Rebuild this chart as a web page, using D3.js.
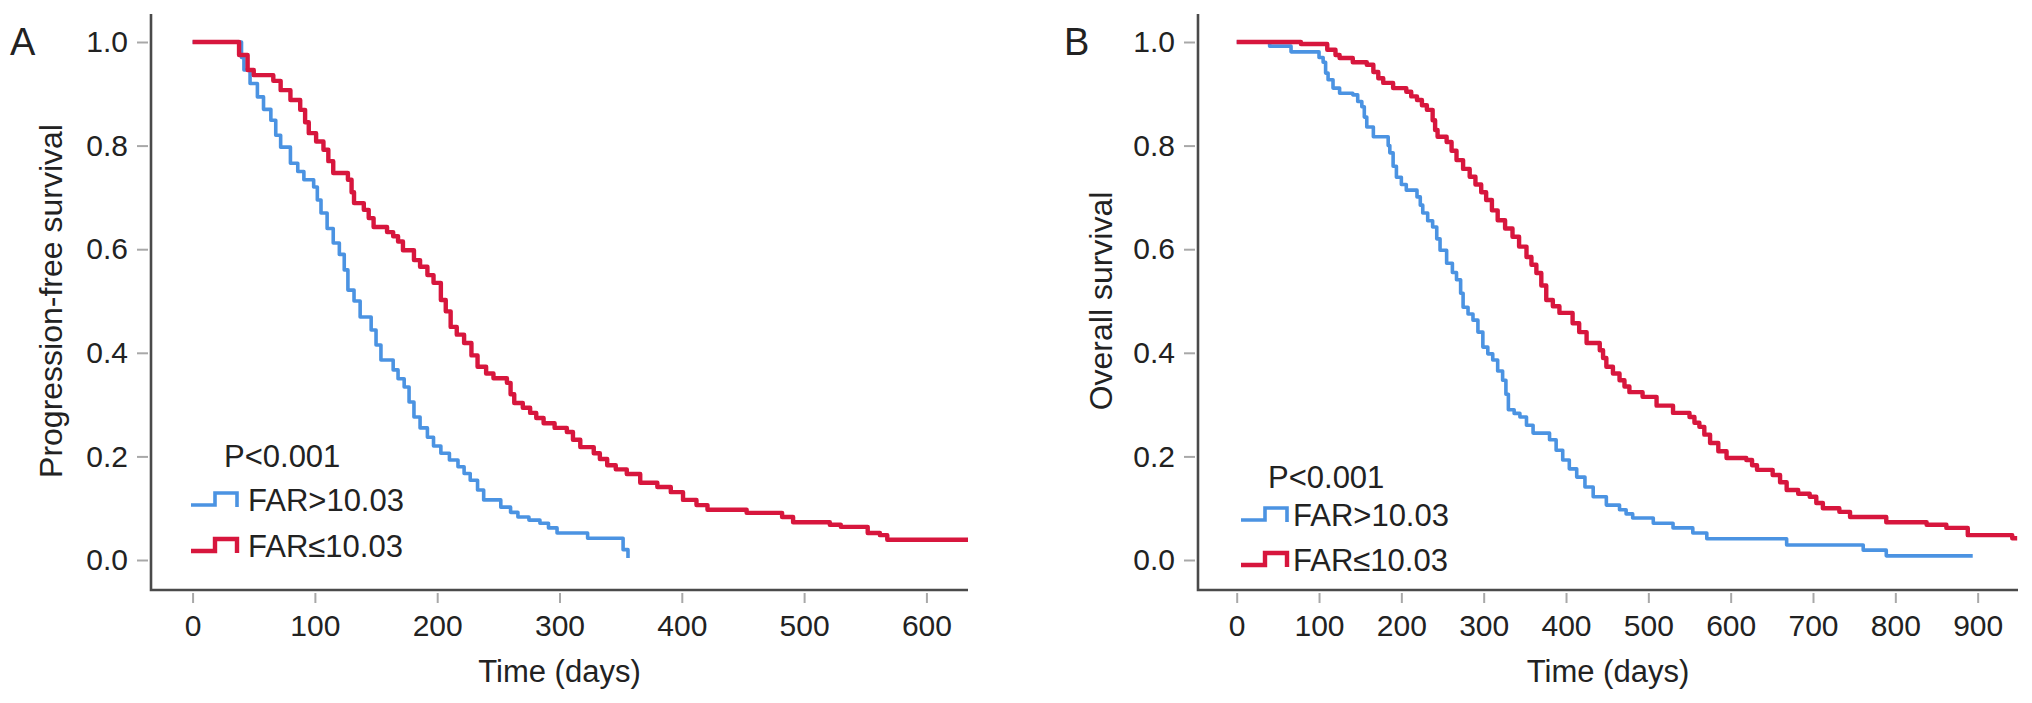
<!DOCTYPE html>
<html>
<head>
<meta charset="utf-8">
<script src="https://cdn.jsdelivr.net/npm/d3@7"></script>
<style>
  html, body { margin: 0; padding: 0; background: #fff; }
  svg text { font-family: "Liberation Sans", Arial, Helvetica, sans-serif; fill: #222; }
</style>
</head>
<body>
<div id="chart"></div>
<script>
// Kaplan-Meier curves (days, survival probability)
const groupLabels = ["FAR>10.03", "FAR\u226410.03"];
const pValueText = "P<0.001";
const yTicks = [0, 0.2, 0.4, 0.6, 0.8, 1.0];
const xTicksA = [0, 100, 200, 300, 400, 500, 600];
const xTicksB = [0, 100, 200, 300, 400, 500, 600, 700, 800, 900];

// Panel A - progression-free survival
const pfsHighDays = [0, 40, 42, 47, 53, 58, 64, 68, 72, 80, 86, 91, 99, 102, 105, 110, 115, 120, 124, 127, 132, 137, 146, 150, 154, 164, 168, 173, 177, 181, 186, 192, 197, 203, 210, 217, 222, 227, 233, 238, 252, 260, 266, 275, 284, 291, 298, 323, 352, 356];
const pfsHighSurv = [1.0, 0.97, 0.946, 0.92, 0.894, 0.87, 0.849, 0.82, 0.797, 0.766, 0.75, 0.734, 0.72, 0.695, 0.67, 0.64, 0.612, 0.59, 0.56, 0.521, 0.5, 0.469, 0.444, 0.415, 0.386, 0.367, 0.35, 0.334, 0.305, 0.276, 0.255, 0.237, 0.22, 0.206, 0.193, 0.18, 0.167, 0.154, 0.135, 0.116, 0.102, 0.092, 0.083, 0.077, 0.071, 0.062, 0.052, 0.042, 0.02, 0.004];
const pfsLowDays = [0, 38, 45, 50, 66, 72, 80, 88, 92, 95, 101, 107, 111, 115, 127, 130, 132, 140, 144, 148, 159, 164, 168, 172, 181, 186, 192, 197, 203, 207, 211, 216, 222, 228, 233, 240, 246, 257, 260, 263, 270, 276, 281, 287, 296, 306, 311, 317, 328, 333, 339, 346, 355, 366, 380, 391, 401, 412, 421, 453, 482, 491, 521, 530, 552, 562, 568, 634];
const pfsLowSurv = [1.0, 0.975, 0.946, 0.936, 0.925, 0.907, 0.888, 0.869, 0.845, 0.824, 0.808, 0.792, 0.77, 0.747, 0.734, 0.71, 0.689, 0.676, 0.66, 0.643, 0.633, 0.625, 0.615, 0.598, 0.579, 0.566, 0.55, 0.535, 0.502, 0.48, 0.45, 0.435, 0.419, 0.395, 0.373, 0.36, 0.351, 0.342, 0.32, 0.303, 0.294, 0.284, 0.274, 0.264, 0.255, 0.247, 0.232, 0.218, 0.206, 0.195, 0.183, 0.175, 0.166, 0.149, 0.141, 0.131, 0.116, 0.106, 0.097, 0.091, 0.083, 0.073, 0.068, 0.064, 0.052, 0.048, 0.039, 0.039];

// Panel B - overall survival
const osHighDays = [0, 40, 66, 100, 105, 108, 111, 117, 125, 141, 147, 152, 155, 158, 166, 184, 186, 190, 194, 200, 206, 219, 223, 226, 232, 238, 243, 247, 255, 262, 267, 272, 275, 281, 287, 293, 299, 305, 311, 317, 323, 327, 330, 337, 344, 352, 360, 380, 388, 396, 404, 413, 423, 433, 449, 465, 473, 481, 506, 530, 554, 571, 668, 761, 789, 894];
const osHighSurv = [1.0, 0.992, 0.981, 0.97, 0.961, 0.94, 0.927, 0.911, 0.901, 0.898, 0.885, 0.875, 0.855, 0.836, 0.817, 0.8, 0.786, 0.76, 0.739, 0.725, 0.714, 0.701, 0.685, 0.67, 0.655, 0.643, 0.62, 0.598, 0.573, 0.555, 0.541, 0.515, 0.488, 0.475, 0.463, 0.44, 0.411, 0.398, 0.386, 0.365, 0.347, 0.32, 0.29, 0.283, 0.276, 0.26, 0.245, 0.232, 0.212, 0.193, 0.176, 0.16, 0.141, 0.122, 0.106, 0.097, 0.089, 0.081, 0.071, 0.062, 0.052, 0.041, 0.029, 0.019, 0.008, 0.008];
const osLowDays = [0, 78, 110, 120, 125, 141, 158, 166, 172, 178, 190, 206, 212, 219, 225, 231, 238, 241, 244, 255, 261, 267, 275, 283, 290, 297, 303, 310, 317, 326, 335, 343, 352, 358, 364, 370, 376, 384, 392, 408, 416, 425, 441, 445, 449, 457, 465, 471, 477, 493, 510, 530, 550, 556, 562, 568, 575, 585, 595, 619, 626, 632, 651, 660, 668, 682, 696, 704, 712, 732, 745, 789, 838, 862, 888, 942, 948];
const osLowSurv = [1.0, 0.996, 0.985, 0.975, 0.969, 0.961, 0.956, 0.942, 0.93, 0.921, 0.911, 0.904, 0.895, 0.888, 0.878, 0.869, 0.849, 0.83, 0.817, 0.807, 0.79, 0.772, 0.755, 0.74, 0.725, 0.71, 0.695, 0.675, 0.656, 0.64, 0.624, 0.605, 0.585, 0.57, 0.554, 0.53, 0.502, 0.49, 0.477, 0.457, 0.44, 0.419, 0.405, 0.39, 0.373, 0.36, 0.347, 0.335, 0.324, 0.315, 0.298, 0.284, 0.276, 0.265, 0.257, 0.242, 0.226, 0.21, 0.197, 0.193, 0.183, 0.174, 0.164, 0.15, 0.135, 0.128, 0.122, 0.11, 0.1, 0.093, 0.083, 0.073, 0.068, 0.062, 0.048, 0.042, 0.042];

const blue = "#4b93e2";
const red = "#d7163d";
const width = 2032;
const height = 703;

const svg = d3
  .select("#chart")
  .append("svg")
  .attr("width", width)
  .attr("height", height);

svg.append("rect").attr("width", width).attr("height", height).attr("fill", "#fff");

// y scale is shared by both panels
const y = d3.scaleLinear().domain([0, 1]).range([560, 42]);
const axisTop = 14;
const axisBottom = 590;

function toPoints(days, surv) {
  return days.map((d, i) => ({ t: d, s: surv[i] }));
}

function drawPanel(cfg) {
  const x = d3.scaleLinear().domain(cfg.xDomain).range(cfg.xRange);
  const left = cfg.xRange[0];
  const right = cfg.xRange[1];
  const g = svg.append("g");

  // y ticks (slightly detached from the axis line, like the original)
  const yAxis = g
    .append("g")
    .attr("transform", `translate(${left - 3},0)`)
    .call(
      d3.axisLeft(y).tickValues(yTicks).tickFormat(d3.format(".1f")).tickSize(11).tickPadding(9)
    );
  yAxis.select(".domain").remove();
  yAxis.selectAll(".tick line").attr("stroke", "#a8a8a8").attr("stroke-width", 2);
  yAxis.selectAll(".tick text").style("font-size", "30px").attr("fill", "#222");

  const xAxis = g
    .append("g")
    .attr("transform", `translate(0,${axisBottom + 3})`)
    .call(d3.axisBottom(x).tickValues(cfg.xTicks).tickSize(10).tickPadding(12));
  xAxis.select(".domain").remove();
  xAxis.selectAll(".tick line").attr("stroke", "#a8a8a8").attr("stroke-width", 2);
  xAxis.selectAll(".tick text").style("font-size", "30px").attr("fill", "#222");

  // axis lines
  g.append("path")
    .attr("d", `M${left},${axisTop}V${axisBottom}H${right}`)
    .attr("fill", "none")
    .attr("stroke", "#4a4a4a")
    .attr("stroke-width", 2.6);

  // survival curves
  const line = d3
    .line()
    .x((d) => x(d.t))
    .y((d) => y(d.s))
    .curve(d3.curveStepAfter);

  cfg.series.forEach((s) => {
    g.append("path")
      .datum(s.points)
      .attr("d", line)
      .attr("fill", "none")
      .attr("stroke", s.color)
      .attr("stroke-width", s.width)
      .attr("stroke-linejoin", "round");
  });

  // legend
  const lg = cfg.legend;
  g.append("text")
    .attr("x", lg.px)
    .attr("y", lg.rows[0])
    .style("font-size", "31px")
    .text(pValueText);

  cfg.series.forEach((s, i) => {
    const base = lg.rows[i + 1];
    const x0 = lg.sx;
    g.append("path")
      .attr(
        "d",
        `M${x0},${base - 6}H${x0 + 24}V${base - 18}H${x0 + 46}V${base - 4}`
      )
      .attr("fill", "none")
      .attr("stroke", s.color)
      .attr("stroke-width", s.width);
    g.append("text")
      .attr("x", lg.tx)
      .attr("y", base)
      .style("font-size", "31px")
      .text(groupLabels[i]);
  });

  // axis titles
  g.append("text")
    .attr("x", (left + right) / 2)
    .attr("y", 682)
    .attr("text-anchor", "middle")
    .style("font-size", "31px")
    .text("Time (days)");

  g.append("text")
    .attr("transform", `translate(${cfg.yTitleX},${(y(0) + y(1)) / 2}) rotate(-90)`)
    .attr("text-anchor", "middle")
    .style("font-size", "32px")
    .text(cfg.yTitle);

  // panel letter
  g.append("text")
    .attr("x", cfg.letterX)
    .attr("y", 55)
    .style("font-size", "38px")
    .text(cfg.letter);
}

drawPanel({
  letter: "A",
  letterX: 10,
  xDomain: [-34, 634],
  xRange: [151, 968],
  xTicks: xTicksA,
  yTitle: "Progression-free survival",
  yTitleX: 62,
  legend: { px: 224, sx: 191, tx: 248, rows: [467, 511, 557] },
  series: [
    { points: toPoints(pfsHighDays, pfsHighSurv), color: blue, width: 3.6 },
    { points: toPoints(pfsLowDays, pfsLowSurv), color: red, width: 4.4 },
  ],
});

drawPanel({
  letter: "B",
  letterX: 1064,
  xDomain: [-47, 949],
  xRange: [1198, 2018],
  xTicks: xTicksB,
  yTitle: "Overall survival",
  yTitleX: 1112,
  legend: { px: 1268, sx: 1241, tx: 1293, rows: [488, 526, 571] },
  series: [
    { points: toPoints(osHighDays, osHighSurv), color: blue, width: 3.6 },
    { points: toPoints(osLowDays, osLowSurv), color: red, width: 4.4 },
  ],
});
</script>
</body>
</html>
